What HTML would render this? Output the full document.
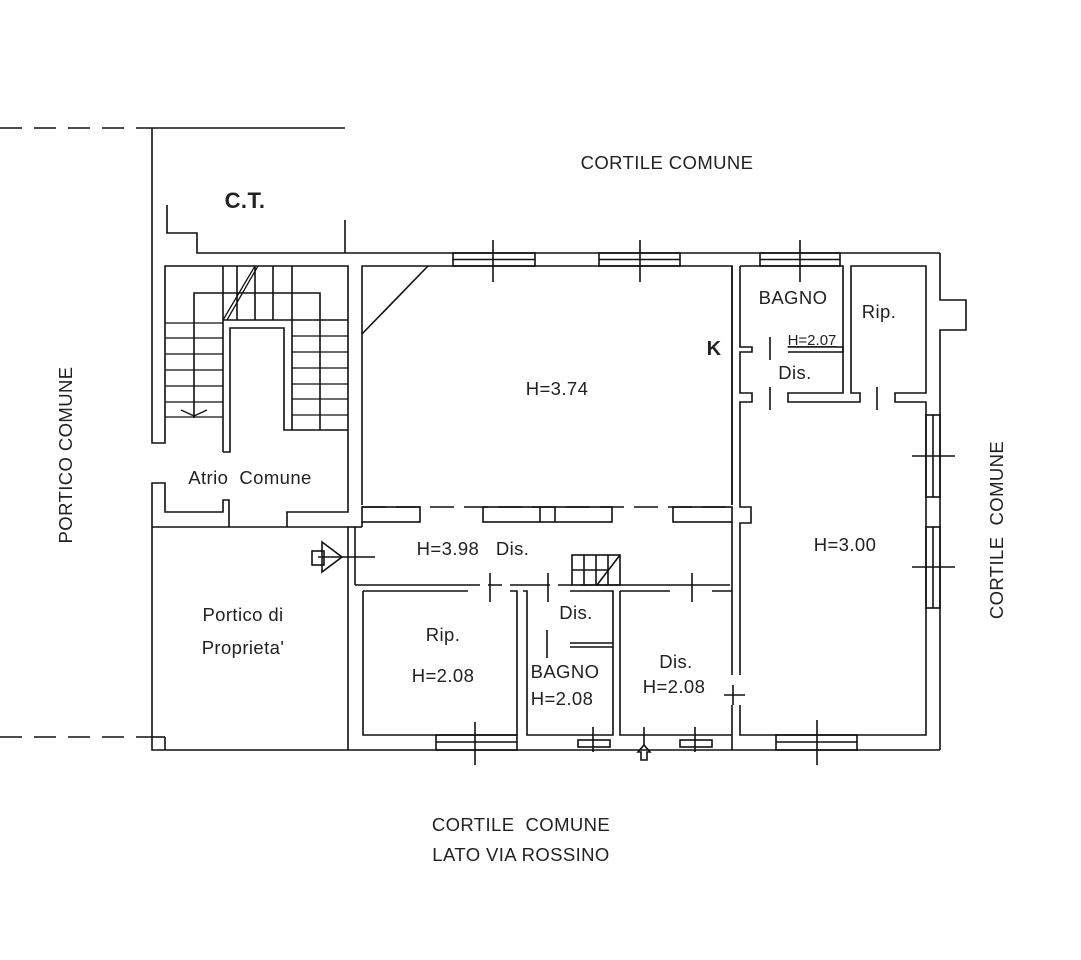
<!DOCTYPE html>
<html><head><meta charset="utf-8"><style>
html,body{margin:0;padding:0;background:#fff;}
svg{display:block}
text{font-family:"Liberation Sans",sans-serif;fill:#222;}
</style></head><body>
<svg width="1081" height="960" viewBox="0 0 1081 960" xmlns="http://www.w3.org/2000/svg">
<g stroke="#111" stroke-width="1.6" fill="none">
<line x1="0" y1="128" x2="150" y2="128" stroke-dasharray="22,12"/>
<line x1="150" y1="128" x2="345" y2="128"/>
<line x1="0" y1="737" x2="152" y2="737" stroke-dasharray="22,12"/>
<polyline points="152,128 152,443 165,443 165,266 348,266 348,512 287,512 287,527"/>
<polyline points="167,205 167,233 197,233 197,253 453,253"/>
<line x1="345" y1="220" x2="345" y2="253"/>
<line x1="223" y1="266" x2="223" y2="452"/>
<polyline points="223,452 230,452 230,328 284,328 284,430 348,430"/>
<line x1="237" y1="266" x2="237" y2="320"/>
<line x1="255" y1="266" x2="255" y2="320"/>
<line x1="273" y1="266" x2="273" y2="320"/>
<line x1="292" y1="266" x2="292" y2="430"/>
<polyline points="194,418 194,293 320,293 320,430"/>
<line x1="223" y1="320" x2="348" y2="320"/>
<g stroke-width="1.3">
<line x1="165" y1="323" x2="223" y2="323"/><line x1="165" y1="338" x2="223" y2="338"/><line x1="165" y1="354" x2="223" y2="354"/><line x1="165" y1="370" x2="223" y2="370"/><line x1="165" y1="386" x2="223" y2="386"/><line x1="165" y1="402" x2="223" y2="402"/><line x1="165" y1="417" x2="223" y2="417"/>
<line x1="292" y1="336" x2="348" y2="336"/><line x1="292" y1="352" x2="348" y2="352"/><line x1="292" y1="368" x2="348" y2="368"/><line x1="292" y1="384" x2="348" y2="384"/><line x1="292" y1="399" x2="348" y2="399"/><line x1="292" y1="415" x2="348" y2="415"/>
<line x1="223" y1="320" x2="255" y2="266"/><line x1="227" y1="320" x2="258" y2="266"/>
<polyline points="181,410 194,416 207,410"/>
</g>
<polyline points="152,527 152,483 165,483 165,512 223,512 223,500 229,500 229,527"/>
<polyline points="152,527 348,527"/>
<polyline points="152,527 152,750 348,750"/>
<line x1="152" y1="737" x2="165" y2="737"/><line x1="165" y1="737" x2="165" y2="750"/>
<polyline points="362,505 362,266 732,266 732,505"/>
<line x1="362" y1="334" x2="428" y2="266"/>
<line x1="453" y1="253" x2="940" y2="253"/>
<rect x="453" y="253" width="82" height="13"/><line x1="453" y1="259.5" x2="535" y2="259.5"/>
<rect x="599" y="253" width="81" height="13"/><line x1="599" y1="259.5" x2="680" y2="259.5"/>
<rect x="760" y="253" width="80" height="13"/><line x1="760" y1="259.5" x2="840" y2="259.5"/>
<line x1="493" y1="240" x2="493" y2="282"/>
<line x1="640" y1="240" x2="640" y2="282"/>
<line x1="800" y1="240" x2="800" y2="282"/>
<polyline points="940,253 940,300 966,300 966,330 940,330 940,750"/>
<polyline points="740,266 740,347 752,347 752,352 740,352 740,393 752,393 752,402 740,402 740,507 751,507 751,523 740,523 740,675"/>
<polyline points="740,266 843,266 843,393 788,393 788,402 860,402 860,393 851,393 851,266 926,266 926,393 895,393 895,402 926,402 926,735 740,735 740,705"/>
<polyline points="732,266 732,505"/><line x1="732" y1="522" x2="732" y2="675"/><line x1="732" y1="705" x2="732" y2="750"/>
<polyline points="788,347 843,347 843,352 788,352"/>
<line x1="770" y1="337" x2="770" y2="360"/>
<line x1="770" y1="387" x2="770" y2="410"/>
<line x1="877" y1="387" x2="877" y2="410"/>
<line x1="724" y1="695" x2="745" y2="695"/><line x1="733" y1="685" x2="733" y2="705"/>
<rect x="926" y="415" width="14" height="82"/><line x1="933" y1="415" x2="933" y2="497"/>
<rect x="926" y="527" width="14" height="81"/><line x1="933" y1="527" x2="933" y2="608"/>
<line x1="912" y1="456" x2="955" y2="456"/><line x1="912" y1="567" x2="955" y2="567"/>
<rect x="776" y="735" width="81" height="15"/><line x1="776" y1="742" x2="857" y2="742"/>
<line x1="817" y1="720" x2="817" y2="765"/>
<line x1="362" y1="507" x2="732" y2="507" stroke-dasharray="24,10"/>
<rect x="362" y="507" width="58" height="15"/>
<rect x="483" y="507" width="129" height="15"/><line x1="540" y1="507" x2="540" y2="522"/><line x1="555" y1="507" x2="555" y2="522"/>
<rect x="673" y="507" width="59" height="15"/>
<line x1="348" y1="527" x2="348" y2="750"/>
<line x1="355" y1="527" x2="355" y2="585"/>
<line x1="348" y1="527" x2="362" y2="527"/><line x1="362" y1="522" x2="362" y2="527"/>
<line x1="355" y1="585" x2="732" y2="585" stroke-dasharray="125,8,14,8,40,8,14,8,150,10,30,8"/>
<rect x="312" y="551" width="12" height="14"/>
<polygon points="322,542 342,557 322,572"/>
<line x1="318" y1="557" x2="375" y2="557"/>
<rect x="572" y="555" width="48" height="30"/><line x1="584" y1="555" x2="584" y2="585"/><line x1="596" y1="555" x2="596" y2="585"/><line x1="572" y1="570" x2="608" y2="570"/><line x1="608" y1="555" x2="608" y2="585"/>
<polyline points="620,555 597,585"/>
<polyline points="363,591 468,591"/><polyline points="510,591 517,591 517,735 363,735 363,591"/>
<polyline points="523,591 527,591 527,735 613,735 613,591 570,591"/>
<polyline points="570,643 613,643"/><polyline points="570,647 613,647"/>
<polyline points="620,591 670,591"/><polyline points="712,591 732,591"/>
<polyline points="620,591 620,735 732,735"/>
<line x1="348" y1="750" x2="940" y2="750"/>
<line x1="490" y1="573" x2="490" y2="602"/><line x1="548" y1="573" x2="548" y2="602"/><line x1="692" y1="573" x2="692" y2="602"/>
<line x1="547" y1="630" x2="547" y2="658"/>
<rect x="436" y="735" width="81" height="15"/><line x1="436" y1="742" x2="517" y2="742"/><line x1="475" y1="722" x2="475" y2="765"/>
<rect x="578" y="740" width="32" height="7"/><line x1="593" y1="727" x2="593" y2="752"/>
<rect x="680" y="740" width="32" height="7"/><line x1="695" y1="727" x2="695" y2="752"/>
<polygon points="644,745 650,752 647,752 647,760 641,760 641,752 638,752"/>
<line x1="644" y1="727" x2="644" y2="745"/>
</g>
<g font-size="18.5" letter-spacing="0.4">
<text x="245" y="208" font-size="22" font-weight="bold" text-anchor="middle">C.T.</text>
<text x="667" y="169" text-anchor="middle">CORTILE COMUNE</text>
<text x="250" y="484" text-anchor="middle">Atrio&#160; Comune</text>
<text x="557" y="395" text-anchor="middle">H=3.74</text>
<text x="473" y="555" text-anchor="middle">H=3.98&#160;&#160; Dis.</text>
<text x="243" y="621" text-anchor="middle">Portico di</text>
<text x="243" y="654" text-anchor="middle">Proprieta'</text>
<text x="443" y="641" text-anchor="middle">Rip.</text>
<text x="443" y="682" text-anchor="middle">H=2.08</text>
<text x="576" y="619" text-anchor="middle">Dis.</text>
<text x="565" y="678" text-anchor="middle">BAGNO</text>
<text x="562" y="705" text-anchor="middle">H=2.08</text>
<text x="676" y="668" text-anchor="middle">Dis.</text>
<text x="674" y="693" text-anchor="middle">H=2.08</text>
<text x="845" y="551" text-anchor="middle">H=3.00</text>
<text x="793" y="304" text-anchor="middle">BAGNO</text>
<text x="879" y="318" text-anchor="middle">Rip.</text>
<text x="812" y="345" text-anchor="middle" font-size="15" letter-spacing="0" text-decoration="underline">H=2.07</text>
<text x="795" y="379" text-anchor="middle">Dis.</text>
<text x="714" y="355" text-anchor="middle" font-size="20" font-weight="bold">K</text>
<text x="521" y="831" text-anchor="middle">CORTILE&#160; COMUNE</text>
<text x="521" y="861" text-anchor="middle">LATO VIA ROSSINO</text>
<text transform="translate(72,455) rotate(-90)" text-anchor="middle">PORTICO COMUNE</text>
<text transform="translate(1003,530) rotate(-90)" text-anchor="middle">CORTILE&#160; COMUNE</text>
</g>
</svg>
</body></html>
